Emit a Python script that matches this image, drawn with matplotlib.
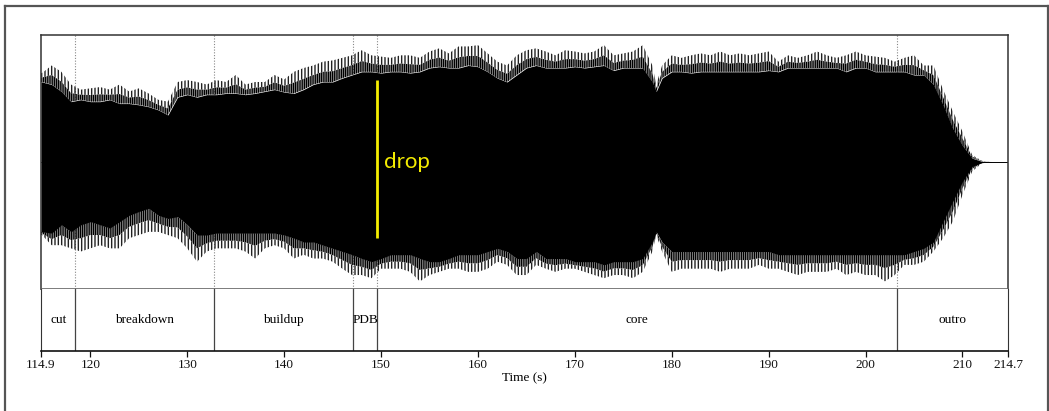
import matplotlib
matplotlib.use("Agg")
import matplotlib.pyplot as plt
import numpy as np

# ---------------- data ----------------
times = [114.9, 115, 116, 117, 118, 119, 120, 121, 122, 123, 124, 125, 126, 127, 128, 129,
         130, 131, 132, 133, 134, 135, 136, 137, 138, 139, 140, 141, 142, 143, 144, 145,
         146, 147, 148, 149, 150, 151, 152, 153, 154, 155, 156, 157, 158, 159, 160, 161,
         162, 163, 164, 165, 166, 167, 168, 169, 170, 171, 172, 173, 174, 175, 176, 177,
         178, 178.4, 179, 180, 181, 182, 183, 184, 185, 186, 187, 188, 189, 190, 191, 192,
         193, 194, 195, 196, 197, 198, 199, 200, 201, 202, 203, 204, 205, 206, 207, 208,
         209, 210, 211, 212, 213, 214, 214.7]

# outer peaks (spike tips), positive side
peak_top = [0.70, 0.70, 0.76, 0.71, 0.61, 0.57, 0.58, 0.59, 0.57, 0.61, 0.555, 0.58, 0.54, 0.49, 0.475, 0.63,
            0.645, 0.63, 0.61, 0.645, 0.63, 0.685, 0.61, 0.63, 0.63, 0.685, 0.65, 0.71, 0.74, 0.76, 0.79, 0.80,
            0.82, 0.84, 0.88, 0.84, 0.83, 0.82, 0.84, 0.84, 0.82, 0.87, 0.895, 0.855, 0.91, 0.91, 0.92, 0.855,
            0.79, 0.76, 0.84, 0.88, 0.895, 0.87, 0.84, 0.88, 0.87, 0.855, 0.87, 0.92, 0.84, 0.855, 0.87, 0.92,
            0.76, 0.61, 0.76, 0.84, 0.82, 0.84, 0.855, 0.84, 0.87, 0.84, 0.855, 0.84, 0.855, 0.87, 0.79, 0.84,
            0.82, 0.84, 0.87, 0.84, 0.82, 0.84, 0.87, 0.84, 0.83, 0.82, 0.79, 0.82, 0.84, 0.76, 0.76, 0.57,
            0.40, 0.24, 0.055, 0.01, 0.0, 0.0, 0.0]

# solid body edge, positive side
body_top = [0.63, 0.63, 0.61, 0.555, 0.475, 0.49, 0.475, 0.475, 0.49, 0.46, 0.46, 0.45, 0.435, 0.41, 0.37, 0.51,
            0.53, 0.51, 0.53, 0.53, 0.54, 0.54, 0.53, 0.54, 0.555, 0.57, 0.55, 0.54, 0.57, 0.61, 0.63, 0.63,
            0.66, 0.685, 0.71, 0.71, 0.70, 0.71, 0.71, 0.70, 0.71, 0.74, 0.75, 0.74, 0.74, 0.76, 0.75, 0.71,
            0.66, 0.63, 0.685, 0.74, 0.76, 0.74, 0.74, 0.74, 0.75, 0.74, 0.75, 0.76, 0.72, 0.74, 0.74, 0.74,
            0.63, 0.555, 0.66, 0.71, 0.71, 0.70, 0.71, 0.71, 0.71, 0.71, 0.71, 0.71, 0.71, 0.72, 0.71, 0.74,
            0.74, 0.74, 0.74, 0.74, 0.74, 0.71, 0.74, 0.74, 0.71, 0.71, 0.71, 0.71, 0.685, 0.685, 0.61, 0.45,
            0.265, 0.13, 0.03, 0.005, 0.0, 0.0, 0.0]

# outer peaks, negative side (magnitudes)
peak_bot = [0.575, 0.575, 0.655, 0.655, 0.68, 0.705, 0.68, 0.655, 0.68, 0.68, 0.60, 0.575, 0.55, 0.55, 0.575, 0.60,
            0.68, 0.785, 0.705, 0.68, 0.68, 0.68, 0.705, 0.76, 0.68, 0.655, 0.68, 0.76, 0.73, 0.76, 0.76, 0.785,
            0.84, 0.89, 0.89, 0.915, 0.84, 0.84, 0.84, 0.865, 0.94, 0.89, 0.865, 0.84, 0.84, 0.865, 0.865, 0.84,
            0.785, 0.81, 0.89, 0.89, 0.81, 0.84, 0.865, 0.84, 0.84, 0.865, 0.89, 0.915, 0.89, 0.89, 0.915, 0.865,
            0.705, 0.575, 0.705, 0.865, 0.84, 0.84, 0.84, 0.84, 0.865, 0.84, 0.84, 0.84, 0.81, 0.84, 0.84, 0.865,
            0.89, 0.865, 0.865, 0.865, 0.84, 0.89, 0.865, 0.89, 0.89, 0.94, 0.89, 0.81, 0.81, 0.785, 0.705, 0.60,
            0.47, 0.26, 0.075, 0.01, 0.0, 0.0, 0.0]

# solid body edge, negative side (magnitudes)
body_bot = [0.55, 0.55, 0.56, 0.495, 0.55, 0.495, 0.47, 0.495, 0.52, 0.47, 0.42, 0.39, 0.365, 0.42, 0.445, 0.43,
            0.495, 0.575, 0.575, 0.56, 0.56, 0.56, 0.56, 0.56, 0.56, 0.56, 0.575, 0.60, 0.63, 0.63, 0.655, 0.68,
            0.705, 0.73, 0.76, 0.785, 0.76, 0.73, 0.73, 0.73, 0.76, 0.785, 0.785, 0.76, 0.73, 0.73, 0.73, 0.705,
            0.68, 0.705, 0.76, 0.76, 0.705, 0.76, 0.76, 0.76, 0.785, 0.785, 0.785, 0.81, 0.785, 0.785, 0.785, 0.76,
            0.63, 0.55, 0.63, 0.705, 0.705, 0.705, 0.705, 0.705, 0.705, 0.705, 0.705, 0.705, 0.705, 0.705, 0.73, 0.73,
            0.73, 0.73, 0.73, 0.73, 0.73, 0.73, 0.73, 0.73, 0.73, 0.73, 0.73, 0.73, 0.705, 0.68, 0.63, 0.47,
            0.31, 0.155, 0.035, 0.005, 0.0, 0.0, 0.0]

seg_names = ["cut", "breakdown", "buildup", "PDB", "core", "outro"]
seg_bounds = [114.9, 118.44, 132.72, 147.14, 149.55, 203.28, 214.7]

tick_vals = [114.9, 120, 130, 140, 150, 160, 170, 180, 190, 200, 210, 214.7]
tick_labels = ["114.9", "120", "130", "140", "150", "160", "170", "180", "190", "200", "210", "214.7"]

drop_time = 149.55
drop_span = [-0.598, 0.646]

# ---------------- drawing ----------------
plt.rcParams["hatch.linewidth"] = 1.0
serif = ["Liberation Serif", "DejaVu Serif"]

W, H = 1049, 411
fig = plt.figure(figsize=(W / 100, H / 100), dpi=100)

# outer frame (open at the bottom)
frame_kw = dict(color="#555555", lw=1.6, transform=fig.transFigure)
fig.add_artist(plt.Line2D([4.5 / W, 4.5 / W], [-0.01, 1 - 6 / H], **frame_kw))
fig.add_artist(plt.Line2D([4.5 / W, 1048 / W], [1 - 6 / H, 1 - 6 / H], **frame_kw))
fig.add_artist(plt.Line2D([1048 / W, 1048 / W], [-0.01, 1 - 6 / H], **frame_kw))

left = 41 / W
width = 967 / W
ax1 = fig.add_axes([left, (H - 289) / H, width, 254 / H])
ax2 = fig.add_axes([left, (H - 351) / H, width, 62 / H], sharex=ax1)

t = np.array(times)
pt = np.array(peak_top)
bt = np.array(body_top)
pb = -np.array(peak_bot)
bb = -np.array(body_bot)
mt = bt + 0.5 * (pt - bt)   # split of the spike band: dense inner part, sparse outer part
mb = bb + 0.5 * (pb - bb)

# boundaries in the waveform panel (dotted)
for b in seg_bounds[1:-1]:
    ax1.axvline(b, color="#888888", lw=0.8, ls=(0, (1, 1.5)), zorder=0)

ax1.plot(t, np.zeros_like(t), color="black", lw=0.7, zorder=2)
ax1.fill_between(t, bb, bt, color="black", lw=0, zorder=2)
for lo, hi in [(bt, mt), (mb, bb)]:
    ax1.fill_between(t, lo, hi, facecolor="none", edgecolor="black", hatch="|||||||||", lw=0, zorder=2)
for lo, hi in [(mt, pt), (pb, mb)]:
    ax1.fill_between(t, lo, hi, facecolor="none", edgecolor="#222222", hatch="|||||", lw=0, zorder=2)

ax1.vlines(drop_time, drop_span[0], drop_span[1], color="#f4ec00", lw=2.0, zorder=5)
ax1.text(150.25, 0.0, "drop", color="#f4ec00", fontsize=16, family=["Lato", "DejaVu Sans"],
         ha="left", va="center", zorder=6)

ax1.set_ylim(-1, 1)
ax1.set_xlim(114.9, 214.7)
ax1.set_yticks([])
ax1.tick_params(axis="x", which="both", bottom=False, labelbottom=False)
for s in ["top", "left", "right"]:
    ax1.spines[s].set_color("#333333")
    ax1.spines[s].set_linewidth(1.1)
ax1.spines["bottom"].set_color("#666666")
ax1.spines["bottom"].set_linewidth(1.2)

# segment panel
for b in seg_bounds[1:-1]:
    ax2.axvline(b, color="#444444", lw=0.9)
for i, name in enumerate(seg_names):
    mid = 0.5 * (seg_bounds[i] + seg_bounds[i + 1])
    ax2.text(mid, 0.5, name, ha="center", va="center", fontsize=9.5, family=serif,
             transform=ax2.get_xaxis_transform())
ax2.set_ylim(0, 1)
ax2.set_yticks([])
ax2.set_xticks(tick_vals)
ax2.set_xticklabels(tick_labels, fontsize=9.5, family=serif)
ax2.tick_params(axis="x", direction="out", length=4, width=0.9, pad=2, colors="#111111")
ax2.set_xlabel("Time (s)", fontsize=9.5, family=serif, labelpad=1)
ax2.spines["top"].set_visible(False)
ax2.spines["left"].set_color("#333333")
ax2.spines["right"].set_color("#333333")
ax2.spines["bottom"].set_color("#111111")
ax2.spines["bottom"].set_linewidth(1.2)
ax2.set_xlim(114.9, 214.7)

fig.savefig("out.png", dpi=100)
